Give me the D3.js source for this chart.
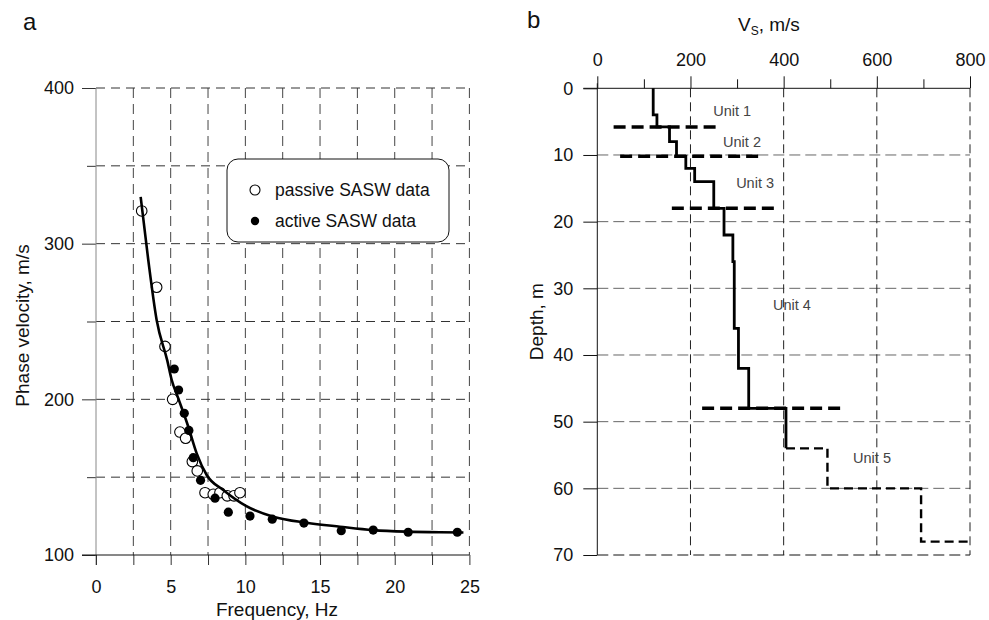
<!DOCTYPE html>
<html>
<head>
<meta charset="utf-8">
<script src="https://cdn.jsdelivr.net/npm/d3@7"></script>
<style>
  body { margin: 0; background: #fff; }
  svg text { font-family: "Liberation Sans", Arial, sans-serif; fill: #111; }
</style>
</head>
<body>
<svg id="fig" width="989" height="620"></svg>
<script>
// ---------- Panel a: dispersion curve ----------
const passiveFreq = [3.06, 4.06, 4.62, 5.13, 5.62, 6.0, 6.45, 6.78, 7.30, 7.85, 8.30, 8.79, 9.24, 9.64];
const passiveVel  = [321, 272, 234, 200, 179, 175, 160, 154, 140, 139, 140, 138, 138, 140];
const activeFreq  = [5.24, 5.53, 5.91, 6.22, 6.51, 7.0, 7.97, 8.86, 10.31, 11.8, 13.92, 16.42, 18.56, 20.9, 24.19];
const activeVel   = [219.5, 206, 191, 180, 162.5, 148, 136.5, 127.5, 125, 123, 120.5, 115.6, 116, 114.6, 114.6];
const fitFreq = [2.99, 3.5, 4.06, 4.77, 5.07, 5.51, 6.18, 6.74, 7.41, 8.52, 10.04, 11.87, 14.1, 16.33, 18.56, 20.8, 23.0, 24.6];
const fitVel  = [330, 289.5, 251, 225, 212.4, 200.6, 182.4, 165.3, 151.4, 141.7, 131.5, 124.6, 120.7, 118.2, 116, 115, 114.6, 114.5];
const freqTicks = [0, 2.5, 5, 7.5, 10, 12.5, 15, 17.5, 20, 22.5, 25];
const velTicks  = [100, 150, 200, 250, 300, 350, 400];
const legendLabels = ["passive SASW data", "active SASW data"];

// ---------- Panel b: shear-wave velocity profile ----------
const layerTop    = [0, 4, 5.8, 8, 10.2, 12, 14, 18, 22, 26, 36, 42, 48];
const layerBottom = [4, 5.8, 8, 10.2, 12, 14, 18, 22, 26, 36, 42, 48, 54];
const layerVs     = [120, 128, 155, 170, 190, 209, 250, 272, 291, 294, 303, 325, 405];
const deepDepth = [54, 60, 68];
const deepVs    = [494, 695, 795];
const unitDepth = [5.8, 10.2, 18, 48];
const unitFrom  = [35, 49, 160, 225];
const unitTo    = [260, 350, 389, 525];
const unitNames      = ["Unit 1", "Unit 2", "Unit 3", "Unit 4", "Unit 5"];
const unitLabelVs    = [249, 270, 298, 377, 549];
const unitLabelDepth = [3.4, 8.05, 14.25, 32.5, 55.5];
const vsTicks    = [0, 100, 200, 300, 400, 500, 600, 700, 800];
const depthTicks = [0, 10, 20, 30, 40, 50, 60, 70];

const svg = d3.select("#fig");
const FS_TICK = 18, FS_TITLE = 19;

// ===== Panel a =====
const xa = d3.scaleLinear().domain([0, 25]).range([96, 469.4]);
const ya = d3.scaleLinear().domain([100, 400]).range([555, 88]);
const ga = svg.append("g");

// grid
ga.append("g").selectAll("line").data(freqTicks.filter(d => d > 0)).join("line")
  .attr("x1", d => xa(d)).attr("x2", d => xa(d))
  .attr("y1", ya(400)).attr("y2", ya(100))
  .attr("stroke", "#444").attr("stroke-width", 1).attr("stroke-dasharray", "10,6");
ga.append("g").selectAll("line").data(velTicks.filter(d => d > 100)).join("line")
  .attr("x1", xa(0)).attr("x2", xa(25))
  .attr("y1", d => ya(d)).attr("y2", d => ya(d))
  .attr("stroke", "#333").attr("stroke-width", 1).attr("stroke-dasharray", "9,6");

// y axis
const yAxisA = d3.axisLeft(ya).tickValues(velTicks).tickSize(14).tickPadding(8)
  .tickFormat(d => d % 100 === 0 ? d : "");
const gya = ga.append("g").attr("transform", `translate(${xa(0)},0)`).call(yAxisA);
gya.select(".domain").remove();
gya.selectAll(".tick line").attr("stroke", "#333")
  .attr("x2", d => d % 100 === 0 ? -14 : -9);
gya.selectAll(".tick text").attr("font-size", FS_TICK).style("font-family", "Liberation Sans, Arial, sans-serif").attr("fill", "#111");
ga.append("line").attr("x1", xa(0)).attr("x2", xa(0)).attr("y1", ya(400)).attr("y2", ya(100) + 10)
  .attr("stroke", "#888").attr("stroke-width", 1);

// x axis
const xAxisA = d3.axisBottom(xa).tickValues(freqTicks).tickSize(10).tickPadding(15)
  .tickFormat(d => d % 5 === 0 ? d : "");
const gxa = ga.append("g").attr("transform", `translate(0,${ya(100)})`).call(xAxisA);
gxa.select(".domain").remove();
gxa.selectAll(".tick line").attr("stroke", "#333");
gxa.selectAll(".tick text").attr("font-size", FS_TICK).style("font-family", "Liberation Sans, Arial, sans-serif").attr("fill", "#111");
ga.append("line").attr("x1", xa(0) - 14).attr("x2", xa(25)).attr("y1", ya(100)).attr("y2", ya(100))
  .attr("stroke", "#111").attr("stroke-width", 1);

// titles
ga.append("text").attr("transform", `translate(29,${(ya(100) + ya(400)) / 2 + 4}) rotate(-90)`)
  .attr("text-anchor", "middle").attr("font-size", FS_TITLE).text("Phase velocity, m/s");
ga.append("text").attr("x", 277).attr("y", 616).attr("text-anchor", "middle")
  .attr("font-size", FS_TITLE).text("Frequency, Hz");
ga.append("text").attr("x", 23).attr("y", 30).attr("font-size", 24).text("a");

// passive (open) markers sit under the fitted curve
ga.append("g").selectAll("circle").data(passiveFreq.map((f, i) => [f, passiveVel[i]])).join("circle")
  .attr("cx", d => xa(d[0])).attr("cy", d => ya(d[1])).attr("r", 5.3)
  .attr("fill", "#fff").attr("stroke", "#000").attr("stroke-width", 1.1);

// fitted curve
const fitLine = d3.line().x(d => xa(d[0])).y(d => ya(d[1])).curve(d3.curveMonotoneX);
ga.append("path").datum(fitFreq.map((f, i) => [f, fitVel[i]]))
  .attr("d", fitLine).attr("fill", "none").attr("stroke", "#000").attr("stroke-width", 2.6);

// active (filled) markers
ga.append("g").selectAll("circle").data(activeFreq.map((f, i) => [f, activeVel[i]])).join("circle")
  .attr("cx", d => xa(d[0])).attr("cy", d => ya(d[1])).attr("r", 4.6).attr("fill", "#000");

// legend
const lg = ga.append("g");
lg.append("rect").attr("x", 227).attr("y", 159).attr("width", 222).attr("height", 83)
  .attr("rx", 11).attr("ry", 11).attr("fill", "#fff").attr("stroke", "#111").attr("stroke-width", 1);
lg.append("circle").attr("cx", 255).attr("cy", 190).attr("r", 5).attr("fill", "#fff").attr("stroke", "#000").attr("stroke-width", 1.1);
lg.append("circle").attr("cx", 255).attr("cy", 221).attr("r", 4.2).attr("fill", "#000");
lg.selectAll("text").data(legendLabels).join("text")
  .attr("x", 275).attr("y", (d, i) => 196 + i * 31).attr("font-size", 17.5).text(d => d);

// ===== Panel b =====
const xb = d3.scaleLinear().domain([0, 800]).range([597.3, 970]);
const yb = d3.scaleLinear().domain([0, 70]).range([88.3, 555]);
const gb = svg.append("g");

// grid
gb.append("g").selectAll("line").data(depthTicks.filter(d => d > 0)).join("line")
  .attr("x1", xb(0)).attr("x2", xb(800))
  .attr("y1", d => yb(d)).attr("y2", d => yb(d))
  .attr("stroke", d => d === 70 ? "#111" : "#666").attr("stroke-width", 1).attr("stroke-dasharray", "11,5");
gb.append("g").selectAll("line").data(vsTicks.filter(d => d > 0 && d % 200 === 0)).join("line")
  .attr("x1", d => xb(d)).attr("x2", d => xb(d))
  .attr("y1", yb(0)).attr("y2", yb(70))
  .attr("stroke", "#222").attr("stroke-width", 1).attr("stroke-dasharray", "9,5");

// top axis
const xAxisB = d3.axisTop(xb).tickValues(vsTicks).tickSize(12).tickPadding(10)
  .tickFormat(d => d % 200 === 0 ? d : "");
const gxb = gb.append("g").attr("transform", `translate(0,${yb(0)})`).call(xAxisB);
gxb.select(".domain").remove();
gxb.selectAll(".tick line").attr("stroke", "#111").attr("y2", d => d % 200 === 0 ? -12 : -9);
gxb.selectAll(".tick text").attr("font-size", FS_TICK).style("font-family", "Liberation Sans, Arial, sans-serif").attr("fill", "#111");
gb.append("line").attr("x1", xb(0) - 14).attr("x2", xb(800)).attr("y1", yb(0)).attr("y2", yb(0))
  .attr("stroke", "#111").attr("stroke-width", 1);

// left axis
const yAxisB = d3.axisLeft(yb).tickValues(depthTicks).tickSize(14).tickPadding(10);
const gyb = gb.append("g").attr("transform", `translate(${xb(0)},0)`).call(yAxisB);
gyb.select(".domain").remove();
gyb.selectAll(".tick line").attr("stroke", "#111");
gyb.selectAll(".tick text").attr("font-size", FS_TICK).style("font-family", "Liberation Sans, Arial, sans-serif").attr("fill", "#111");
gb.append("line").attr("x1", xb(0)).attr("x2", xb(0)).attr("y1", yb(0) - 5).attr("y2", yb(70))
  .attr("stroke", "#111").attr("stroke-width", 1);

// titles
gb.append("text").attr("transform", `translate(543,${(yb(0) + yb(70)) / 2}) rotate(-90)`)
  .attr("text-anchor", "middle").attr("font-size", FS_TITLE).text("Depth, m");
const vt = gb.append("text").attr("x", 738).attr("y", 31).attr("font-size", FS_TITLE);
vt.append("tspan").text("V");
vt.append("tspan").attr("dy", 4).attr("font-size", 12).text("S");
vt.append("tspan").attr("dy", -4).text(", m/s");
gb.append("text").attr("x", 527).attr("y", 28).attr("font-size", 24).text("b");

// unit boundaries
gb.append("g").selectAll("line").data(unitDepth.map((d, i) => [d, unitFrom[i], unitTo[i]])).join("line")
  .attr("x1", d => xb(d[1])).attr("x2", d => xb(d[2]))
  .attr("y1", d => yb(d[0])).attr("y2", d => yb(d[0]))
  .attr("stroke", "#000").attr("stroke-width", 3.4).attr("stroke-dasharray", "12,6");

// Vs profile (solid, layered)
const stepPts = [];
layerVs.forEach((v, i) => { stepPts.push([v, layerTop[i]], [v, layerBottom[i]]); });
const pLine = d3.line().x(d => xb(d[0])).y(d => yb(d[1]));
gb.append("path").datum(stepPts).attr("d", pLine)
  .attr("fill", "none").attr("stroke", "#000").attr("stroke-width", 2.8);

// deeper profile (dashed)
const deepPts = [[layerVs[layerVs.length - 1], deepDepth[0]]];
deepVs.forEach((v, i) => {
  deepPts.push([v, deepDepth[i]]);
  if (i + 1 < deepDepth.length) deepPts.push([v, deepDepth[i + 1]]);
});
gb.append("path").datum(deepPts).attr("d", pLine)
  .attr("fill", "none").attr("stroke", "#000").attr("stroke-width", 2.4).attr("stroke-dasharray", "9,5");

// unit labels
gb.append("g").selectAll("text").data(unitNames).join("text")
  .attr("x", (d, i) => xb(unitLabelVs[i])).attr("y", (d, i) => yb(unitLabelDepth[i]))
  .attr("dy", "0.35em").attr("font-size", 14.5).style("fill", "#444").text(d => d);
</script>
</body>
</html>
